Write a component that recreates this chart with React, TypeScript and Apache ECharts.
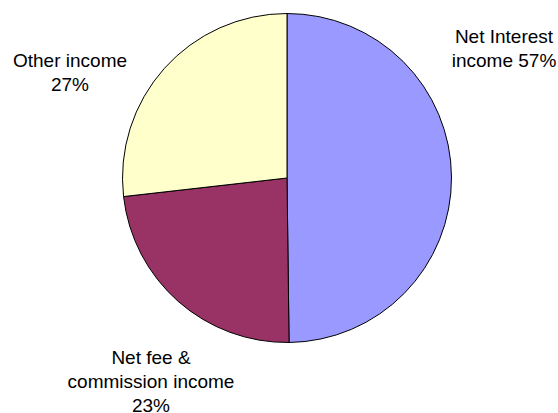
import React, { useEffect, useRef } from "react";
import * as echarts from "echarts";

const categories = ["Net Interest income", "Net fee & commission income", "Other income"];
const values = [49.8, 23.4, 26.8];
const labelTexts = ["Net Interest\nincome 57%", "Net fee &\ncommission income\n23%", "Other income\n27%"];
const colors = ["#9999FF", "#993366", "#FFFFCC"];

const labelPos = [
  { x: 504, y: 48 },
  { x: 151, y: 381 },
  { x: 70, y: 72 },
];

export default function App() {
  const ref = useRef<HTMLDivElement>(null);
  useEffect(() => {
    if (!ref.current) return;
    const chart = echarts.init(ref.current, null, { renderer: "svg" });
    chart.setOption({
      animation: false,
      backgroundColor: "#ffffff",
      series: [
        {
          type: "pie",
          center: [287, 178],
          radius: [0, 164.5],
          startAngle: 90,
          clockwise: true,
          silent: true,
          data: categories.map((name, i) => ({
            name,
            value: values[i],
            itemStyle: { color: colors[i] },
            label: { formatter: labelTexts[i] },
          })),
          itemStyle: { borderColor: "#000000", borderWidth: 1 },
          label: {
            show: true,
            position: "outside",
            fontFamily: "Liberation Sans, Arial, sans-serif",
            fontSize: 19,
            lineHeight: 24,
            color: "#000000",
            align: "center",
            overflow: "none",
            edgeDistance: 0,
          },
          labelLine: { show: false },
          labelLayout: (p: any) => ({
            x: labelPos[p.dataIndex].x,
            y: labelPos[p.dataIndex].y,
            align: "center",
            verticalAlign: "middle",
          }),
        },
      ],
    });
    return () => chart.dispose();
  }, []);
  return (
    <div
      ref={ref}
      style={{ position: "absolute", left: 0, top: 0, width: 558, height: 413 }}
    />
  );
}
